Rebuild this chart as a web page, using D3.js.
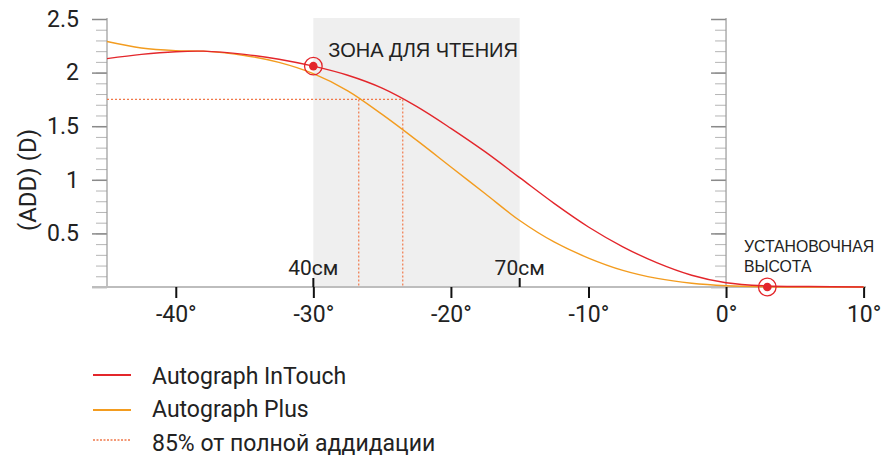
<!DOCTYPE html>
<html>
<head>
<meta charset="utf-8">
<script src="https://cdn.jsdelivr.net/npm/d3@7"></script>
<style>
  body { margin: 0; background: #fff; }
  text { font-family: Roboto, "Noto Sans", sans-serif; fill: #222; }
  .caps { font-family: "Liberation Sans", Arial, sans-serif; }
</style>
</head>
<body>
<script>
const degrees = [-45, -42.5, -40, -38, -35, -32.5, -30, -27.5, -25, -22.5, -20, -17.5, -15, -12.5, -10, -7.5, -5, -2.5, 0, 3, 6, 10];
const inTouch = [2.13, 2.17, 2.195, 2.2, 2.17, 2.125, 2.06, 1.975, 1.855, 1.685, 1.48, 1.26, 1.02, 0.78, 0.56, 0.375, 0.225, 0.11, 0.04, 0.01, 0.004, 0];
const plus = [2.29, 2.23, 2.205, 2.2, 2.16, 2.095, 1.99, 1.83, 1.61, 1.37, 1.12, 0.87, 0.62, 0.42, 0.27, 0.155, 0.08, 0.035, 0.012, 0.002, 0, 0];

const xTicks = [-40, -30, -20, -10, 0, 10];
const yTicks = [0, 0.5, 1, 1.5, 2, 2.5];
const zone = [-30, -15];
const zoneLabels = ["40см", "70см"];
const add85 = 1.75;
const add85Cross = [-26.7, -23.5];
const markers = [[-30, 2.06], [3, 0]];
const legendNames = ["Autograph InTouch", "Autograph Plus", "85% от полной аддидации"];

const red = "#e3262b", orange = "#f39c1f", dotted = "#f0784a";

const svg = d3.select("body")
  .append("svg")
  .attr("width", 893)
  .attr("height", 466);

const x = d3.scaleLinear().domain([-45, 10]).range([107, 863.6]),
  y = d3.scaleLinear().domain([0, 2.5]).range([287, 19]);

// reading zone
svg.append("rect")
  .attr("x", x(zone[0]))
  .attr("y", 18)
  .attr("width", x(zone[1]) - x(zone[0]))
  .attr("height", y(0) - 18)
  .attr("fill", "#efefef");

svg.append("text")
  .attr("class", "caps")
  .attr("x", x(zone[0]) + 15)
  .attr("y", 57)
  .attr("font-size", "20px")
  .text("ЗОНА ДЛЯ ЧТЕНИЯ");

// y axes (left + at 0°)
function drawYAxis(px, labels) {
  const g = svg.append("g").attr("transform", "translate(" + px + ",0)");
  g.append("g")
    .call(d3.axisLeft(y).tickValues(d3.range(0, 2.51, 0.1)).tickSize(11).tickFormat(""))
    .call(a => a.selectAll("line").attr("stroke", "#b5b5b5"));
  g.append("g")
    .call(d3.axisLeft(y).tickValues(yTicks).tickSize(15).tickPadding(13)
      .tickFormat(d => (labels && d > 0) ? d : ""))
    .call(a => a.selectAll("line").attr("stroke", "#8a8a8a").attr("stroke-width", 1.5))
    .call(a => a.selectAll("text").attr("font-size", "23px").attr("fill", "#222").attr("font-family", "Roboto"));
  g.selectAll(".domain").remove();
  g.append("line")
    .attr("y1", 18).attr("y2", y(0))
    .attr("stroke", "#999").attr("stroke-width", 1.2);
}
drawYAxis(x(-45), true);
drawYAxis(x(0), false);

svg.append("text")
  .attr("transform", "translate(36,180) rotate(-90)")
  .attr("text-anchor", "middle")
  .attr("font-size", "24px")
  .text("(ADD) (D)");

// x axis
svg.append("line")
  .attr("x1", 92).attr("x2", 866)
  .attr("y1", y(0)).attr("y2", y(0))
  .attr("stroke", "#bdbdbd").attr("stroke-width", 2);

svg.append("g")
  .attr("transform", "translate(0," + y(0) + ")")
  .call(d3.axisBottom(x).tickValues(xTicks).tickSize(11).tickPadding(8)
    .tickFormat(d => d + "°"))
  .call(a => a.select(".domain").remove())
  .call(a => a.selectAll("line").attr("stroke", "#111").attr("stroke-width", 2))
  .call(a => a.selectAll("text").attr("font-size", "23px").attr("fill", "#222").attr("font-family", "Roboto"));

svg.selectAll(".zone-tick")
  .data(zone)
  .enter().append("line")
  .attr("x1", d => x(d)).attr("x2", d => x(d))
  .attr("y1", y(0) - 9).attr("y2", y(0))
  .attr("stroke", "#111").attr("stroke-width", 2);

svg.selectAll(".zone-label")
  .data(zone)
  .enter().append("text")
  .attr("x", d => x(d))
  .attr("y", 275)
  .attr("text-anchor", "middle")
  .attr("font-size", "21px")
  .text((d, i) => zoneLabels[i]);

// 85% guides
const guide = svg.append("g")
  .attr("stroke", dotted)
  .attr("stroke-width", 1.2)
  .attr("stroke-dasharray", "2,2")
  .attr("fill", "none");
guide.append("line")
  .attr("x1", x(-45)).attr("x2", x(add85Cross[1]))
  .attr("y1", y(add85)).attr("y2", y(add85));
guide.selectAll(".v")
  .data(add85Cross)
  .enter().append("line")
  .attr("x1", d => x(d)).attr("x2", d => x(d))
  .attr("y1", y(add85)).attr("y2", y(0));

// curves
const line = d3.line()
  .x((d, i) => x(degrees[i]))
  .y(d => y(d))
  .curve(d3.curveCatmullRom.alpha(0.5));

svg.append("path")
  .attr("d", line(plus))
  .attr("fill", "none")
  .attr("stroke", orange)
  .attr("stroke-width", 1.4);

svg.append("path")
  .attr("d", line(inTouch))
  .attr("fill", "none")
  .attr("stroke", red)
  .attr("stroke-width", 1.4);

// markers
const m = svg.selectAll(".marker")
  .data(markers)
  .enter().append("g")
  .attr("transform", d => "translate(" + x(d[0]) + "," + y(d[1]) + ")");
m.append("circle").attr("r", 8.8).attr("fill", "none").attr("stroke", red).attr("stroke-width", 1.3);
m.append("circle").attr("r", 4.3).attr("fill", red);

svg.append("text")
  .attr("class", "caps")
  .attr("x", 744)
  .attr("y", 252)
  .attr("font-size", "15.8px")
  .selectAll("tspan")
  .data(["УСТАНОВОЧНАЯ", "ВЫСОТА"])
  .enter().append("tspan")
  .attr("x", 744)
  .attr("dy", (d, i) => i ? 19.5 : 0)
  .text(d => d);

// legend
const legendY = [375, 410, 440];
const legendText = [384, 417, 451];
const lg = svg.selectAll(".legend")
  .data(legendNames)
  .enter().append("g");
lg.append("line")
  .attr("x1", 93).attr("x2", 131)
  .attr("y1", (d, i) => legendY[i]).attr("y2", (d, i) => legendY[i])
  .attr("stroke", (d, i) => [red, orange, dotted][i])
  .attr("stroke-width", (d, i) => i < 2 ? 2 : 1.3)
  .attr("stroke-dasharray", (d, i) => i < 2 ? null : "2,1.5");
lg.append("text")
  .attr("x", 152)
  .attr("y", (d, i) => legendText[i])
  .attr("font-size", "23px")
  .text(d => d);
</script>
</body>
</html>
